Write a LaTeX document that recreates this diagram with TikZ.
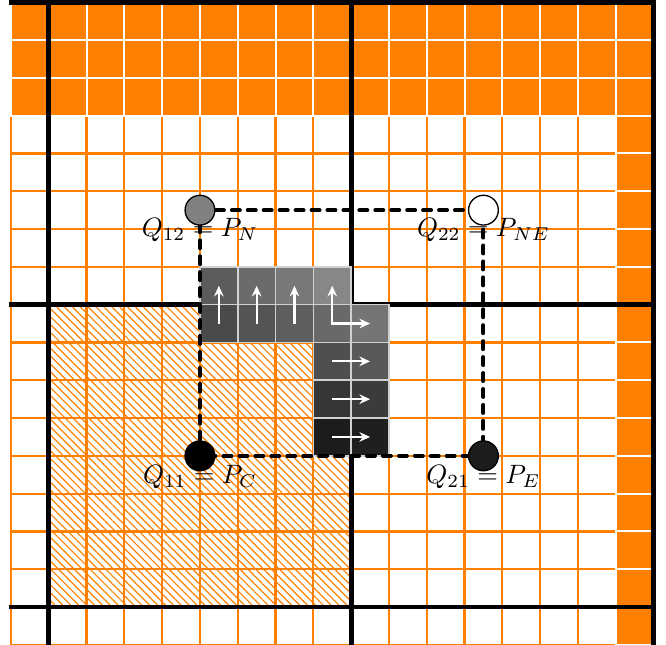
\documentclass[tikz,border=0pt]{standalone}
\usetikzlibrary{patterns.meta,arrows.meta}
\definecolor{og}{RGB}{255,127,0}
\begin{document}
\begin{tikzpicture}[x=0.5cm,y=0.5cm,
  ogrid/.style={draw=og,line width=0.85pt},
  ocell/.style={fill=og,draw=white,line width=0.75pt},
  hatch/.style={pattern={Lines[angle=-45,distance=2.1pt,line width=0.45pt]},pattern color=og},
  heavy/.style={line width=1.8pt,line cap=rect},
  gcell/.style={draw=white!82!black,line width=0.6pt},
  flow/.style={draw=white,line width=0.8pt,-{Stealth[length=4pt,width=3.6pt,inset=1.3pt]}},
  flowboth/.style={draw=white,line width=0.8pt,{Stealth[length=4pt,width=3.6pt,inset=1.3pt]}-{Stealth[length=4pt,width=3.6pt,inset=1.3pt]}},
  dashrect/.style={line width=1.5pt,dashed,line cap=round},
  pt/.style={circle,draw=black,line width=0.5pt,inner sep=0pt,minimum size=11.2pt},
  lab/.style={inner sep=0pt,font=\normalsize}]
\useasboundingbox (-0.29,0) rectangle (17.33,17.06);
% orange grid
\foreach \k in {0,...,17} {
  \draw[ogrid] (\k,0) -- (\k,17);
  \draw[ogrid] (0,\k) -- (17,\k);
}
% orange ghost cells
\foreach \i in {0,...,16} \foreach \j in {14,15,16} \draw[ocell] (\i,\j) rectangle ++(1,1);
\foreach \j in {0,...,13} \draw[ocell] (16,\j) rectangle ++(1,1);
% hatched block
\fill[hatch] (1,1) rectangle (9,9);
% thick block lines
\foreach \k in {1,9,17} {
  \draw[heavy] (\k,0) -- (\k,17);
  \draw[heavy] (0,\k) -- (17,\k);
}
% grey cells
\foreach \i/\j/\c in {5/9/64,6/9/58,7/9/53,8/9/47,
                      5/8/71,6/8/67,7/8/63,8/8/59,9/8/54,
                      8/7/69,9/7/65,8/6/79,9/6/77,8/5/89,9/5/88}
  \draw[gcell,fill=black!\c] (\i,\j) rectangle ++(1,1);
% arrows
\foreach \i in {5,6,7} \draw[flow] (\i+0.5,8.5) -- (\i+0.5,9.5);
\draw[flowboth] (8.5,9.5) |- (9.5,8.5);
\foreach \j in {5,6,7} \draw[flow] (8.5,\j+0.5) -- (9.5,\j+0.5);
% interpolation points
\coordinate (c12) at (5,11.5);
\coordinate (c22) at (12.5,11.5);
\coordinate (c11) at (5,5);
\coordinate (c21) at (12.5,5);
\draw[dashrect] (c12) -- (c22) -- (c21) -- (c11) -- cycle;
\node[pt,fill=black!50] (q12) at (c12) {};
\node[pt,fill=white] (q22) at (c22) {};
\node[pt,fill=black] (q11) at (c11) {};
\node[pt,fill=black!89] (q21) at (c21) {};
\node[lab] (l12) at ([yshift=-7.6pt]q12.center) {$Q_{12} = P_N$};
\node[lab] (l22) at ([yshift=-7.6pt]q22.center) {$Q_{22} = P_{NE}$};
\node[lab] (l11) at ([yshift=-7.9pt]q11.center) {$Q_{11} = P_C$};
\node[lab] (l21) at ([yshift=-7.9pt]q21.center) {$Q_{21} = P_E$};
\end{tikzpicture}
\end{document}
